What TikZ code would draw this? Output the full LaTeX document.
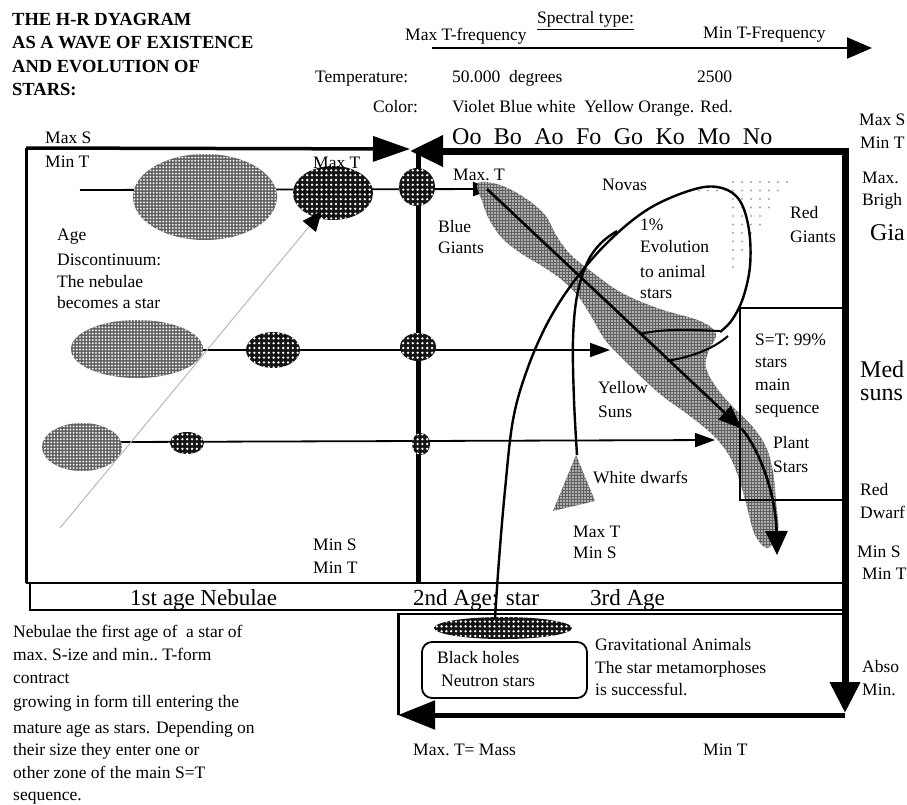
\documentclass[tikz,border=0pt]{standalone}
\usepackage{fontspec}
\setmainfont{Liberation Serif}
\usetikzlibrary{arrows.meta,patterns.meta}
\tikzset{
 lbl/.style={anchor=base west,inner sep=0pt,font=\fontsize{17.5}{21}\selectfont},
 bigl/.style={anchor=base west,inner sep=0pt,font=\fontsize{23}{26}\selectfont},
 bigr/.style={anchor=base west,inner sep=0pt,font=\fontsize{24}{26}\selectfont},
 ttl/.style={anchor=base west,inner sep=0pt,font=\fontsize{18.5}{22}\selectfont\bfseries},
 lightneb/.style={fill=black!62,postaction={pattern={Dots[radius=1pt,distance=3.2pt]},pattern color=white}},
 darkneb/.style={fill=black!92,postaction={pattern={Dots[radius=1.3pt,distance=4.8pt]},pattern color=white}},
 bandfill/.style={fill=black!62,postaction={pattern={Dots[radius=0.9pt,distance=3pt]},pattern color=white}},
 rowline/.style={line width=1.8pt},
 smalltip/.style={-{Triangle[length=20pt,width=14pt]}},
 curveline/.style={line width=2.4pt},
}
\begin{document}
\begin{tikzpicture}[x=1pt,y=-1pt,line join=miter]
\clip (0,0) rectangle (907,804);
\fill[white] (0,0) rectangle (907,804);

% ---------- top spectral arrow ----------
\coordinate (sa1) at (432,48);
\coordinate (sa2) at (872,48);
\draw[line width=2pt,-{Triangle[length=25pt,width=21pt]}] (sa1) -- (sa2);

% ---------- horizontal evolution rows ----------
\coordinate (r1a) at (80,190);  \coordinate (r1b) at (493,189);
\coordinate (r2a) at (200,350); \coordinate (r2b) at (610,350);
\coordinate (r3a) at (120,442); \coordinate (r3b) at (715,440);
\draw[rowline,smalltip] (r1a) -- (r1b);
\draw[rowline,smalltip] (r2a) -- (r2b);
\draw[rowline,smalltip] (r3a) -- (r3b);

% central vertical line
\coordinate (va) at (418,150); \coordinate (vb) at (418,583);
\draw[line width=5pt] (va) -- (vb);

% ---------- main sequence band ----------
\draw[bandfill,draw=none] plot[smooth cycle,tension=0.6] coordinates {
 (478,183) (500,185) (525,198) (545,215) (556,235) (570,254) (592,272) (622,293)
 (660,309) (700,321) (716,334) (708,352) (706,368) (716,387) (732,406) (752,426)
 (766,447) (773,472) (776,502) (778,530) (768,548)
 (755,535) (747,507) (740,482) (730,457) (714,436) (690,416) (660,394) (630,366)
 (606,341) (591,316) (578,296) (562,280) (542,266) (522,254) (503,239) (490,221) (482,201)};

% main sequence arrows
\coordinate (ms1) at (487,189);
\coordinate (ms2) at (742,429);
\coordinate (ms3) at (777,555);
\draw[line width=2.6pt,-{Triangle[length=24pt,width=18pt]}] (ms1) -- (ms2);
\draw[line width=2.6pt,-{Triangle[length=24pt,width=22pt]}] (ms2) .. controls (763,455) and (776,500) .. (ms3);

% ---------- nebulae and stars ----------
\path[lightneb] (205,197) ellipse (72 and 43);
\path[darkneb] (333,193) ellipse (40 and 27);
\path[darkneb] (417,187) ellipse (18 and 19);
\path[lightneb] (137,349) ellipse (66 and 29);
\path[darkneb] (273,350) ellipse (27 and 18);
\path[darkneb] (418,347) ellipse (18 and 14);
\path[lightneb] (82,447) ellipse (40 and 24);
\path[darkneb] (187,443) ellipse (17 and 11);
\path[darkneb] (421,444) ellipse (9 and 11);

% gray discontinuum line
\coordinate (ga) at (60,528); \coordinate (gb) at (322,211);
\draw[gray!55,line width=1pt,-{Triangle[length=20pt,width=17pt,color=black]}] (ga) -- (gb);

% ---------- red giants stipple ----------
\foreach \r in {0,...,10}{
  \pgfmathtruncatemacro\n{6-0.6*\r+0.01}
  \foreach \c in {0,...,\n}{\fill[gray!70] (733+9*\c,182+8.5*\r) circle (1.1pt);}
}
\foreach \x in {699,708,717,726}{\fill[gray!70] (\x,190.5) circle (1.1pt);}

% ---------- white dwarfs ----------
\path[bandfill] (576,455) -- (595,501) -- (553,511) -- cycle;
\coordinate (wd) at (577,455);
\draw[curveline] plot[smooth,tension=0.6] coordinates {(wd) (574,400) (573,340) (577,296) (587,263) (601,243) (617,231)};

% ---------- evolution loop ----------
\path[darkneb] (503,628) ellipse (69 and 11);
\coordinate (bh) at (495,618);
\draw[curveline] plot[smooth,tension=0.6] coordinates {(bh) (499,560) (505,490) (513,420) (527,370) (548,322) (575,280) (610,240) (650,208) (695,189) (722,188) (740,201) (749,230) (750,266) (743,298) (732,320) (720,332)};
\draw[line width=2pt] (720,331) .. controls (695,330) and (665,328) .. (640,334);
\draw[line width=2pt] (728,336) .. controls (712,350) and (690,357) .. (667,361);

% ---------- frame ----------
\draw[line width=3pt] (26,583) -- (26,148);
\draw[line width=3.5pt,-{Triangle[length=37pt,width=25pt]}] (26,148) -- (410,149);
\draw[line width=7pt,{Triangle[length=33pt,width=30pt]}-{Triangle[length=31pt,width=29pt]}] (410,151) -- (845,151) -- (845,713);
\draw[line width=5pt,-{Triangle[length=37pt,width=28pt]}] (845,715) -- (398,715);
\draw[line width=3pt] (398,613) -- (398,715);
\draw[line width=2.5pt] (26,583) -- (845,583);
\draw[line width=2pt] (30,583) -- (30,610) -- (845,610);
\draw[line width=2pt] (398,613.5) -- (845,613.5);
\draw[line width=2pt] (845,308) -- (740,308) -- (740,500) -- (845,500);
\draw[line width=1.8pt,rounded corners=10pt] (422,642) rectangle (587,698);

% ---------- texts ----------
\node[ttl] (t1) at (12,25) {THE H-R DYAGRAM};
\node[ttl] (t2) at (12,48.5) {AS A WAVE OF EXISTENCE};
\node[ttl] (t3) at (12,72) {AND EVOLUTION OF};
\node[ttl] (t4) at (12,95.5) {STARS:};

\node[lbl] (sp) at (537,23.6) {\underline{Spectral type:}};
\node[lbl] (mxf) at (405,40.6) {Max T-frequency};
\node[lbl] (mnf) at (703,38.6) {Min T-Frequency};
\node[lbl] (tmp) at (315,82.6) {Temperature:};
\node[lbl] (t50) at (452,82.6) {50.000\ \ degrees};
\node[lbl] (t25) at (697,82.6) {2500};
\node[lbl] (col) at (373,112.6) {Color:};
\node[lbl] (cols) at (452,112.6) {Violet Blue white\ \ Yellow Orange. Red.};
\node[bigr] (spt) at (452,144.5) {\spaceskip=12.4pt Oo Bo Ao Fo Go Ko Mo No};

\node[lbl] (a1) at (45,143.6) {Max S};
\node[lbl] (a2) at (45,167.6) {Min T};
\node[lbl] (a3) at (313,168.6) {Max T};
\node[lbl] (a4) at (453,180.6) {Max.\ T};
\node[lbl] (a5) at (438,232.6) {Blue};
\node[lbl] (a6) at (438,253.6) {Giants};
\node[lbl] (a7) at (602,190.6) {Novas};
\node[lbl] (a8) at (640,230.6) {1\%};
\node[lbl] (a9) at (640,252.6) {Evolution};
\node[lbl] (a10) at (640,277.6) {to animal};
\node[lbl] (a11) at (640,298.6) {stars};
\node[lbl] (a12) at (790,218.6) {Red};
\node[lbl] (a13) at (790,242.6) {Giants};
\node[lbl] (a14) at (57,240.6) {Age};
\node[lbl] (a15) at (57,265.6) {Discontinuum:};
\node[lbl] (a16) at (57,287.6) {The nebulae};
\node[lbl] (a17) at (57,308.6) {becomes a star};
\node[lbl] (a18) at (755,345.6) {S=T: 99\%};
\node[lbl] (a19) at (755,367.6) {stars};
\node[lbl] (a20) at (755,390.6) {main};
\node[lbl] (a21) at (755,413.6) {sequence};
\node[lbl] (a22) at (598,393.6) {Yellow};
\node[lbl] (a23) at (598,417.6) {Suns};
\node[lbl] (a24) at (773,448.6) {Plant};
\node[lbl] (a25) at (773,472.6) {Stars};
\node[lbl] (a26) at (593,483.6) {White dwarfs};
\node[lbl] (a27) at (573,537.6) {Max T};
\node[lbl] (a28) at (573,558.6) {Min S};
\node[lbl] (a29) at (313,550.6) {Min S};
\node[lbl] (a30) at (313,573.6) {Min T};

\node[bigl] (g1) at (130,605.4) {1st age Nebulae};
\node[bigl] (g2) at (413,605.4) {2nd Age: star};
\node[bigl] (g3) at (590,605.4) {3rd Age};

\node[lbl] (b1) at (437,663.6) {Black holes};
\node[lbl] (b2) at (441,686.6) {Neutron stars};
\node[lbl] (b3) at (595,650.6) {Gravitational Animals};
\node[lbl] (b4) at (595,673.6) {The star metamorphoses};
\node[lbl] (b5) at (595,695.6) {is successful.};
\node[lbl] (b6) at (413,755.6) {Max.\ T= Mass};
\node[lbl] (b7) at (703,755.6) {Min T};

\node[lbl] (l1) at (13,637.6) {Nebulae the first age of\ \ a star of};
\node[lbl] (l2) at (13,660.6) {max.\ S-ize and min..\ T-form};
\node[lbl] (l3) at (13,683.6) {contract};
\node[lbl] (l4) at (13,707.6) {growing in form till entering the};
\node[lbl] (l5) at (13,733.6) {mature age as stars. Depending on};
\node[lbl] (l6) at (13,755.6) {their size they enter one or};
\node[lbl] (l7) at (13,778.6) {other zone of the main S=T};
\node[lbl] (l8) at (13,800.6) {sequence.};

\node[lbl] (c1) at (859,125.6) {Max S};
\node[lbl] (c2) at (860,148.6) {Min T};
\node[lbl] (c3) at (862,183.6) {Max.};
\node[lbl] (c4) at (862,205.6) {Brigh};
\node[bigr] (c5) at (870,240.7) {Gia};
\node[bigr] (c6) at (860,377.7) {Med};
\node[bigr] (c7) at (860,400.7) {suns};
\node[lbl] (c8) at (860,495.6) {Red};
\node[lbl] (c9) at (860,518.6) {Dwarf};
\node[lbl] (c10) at (857,557.6) {Min S};
\node[lbl] (c11) at (862,579.6) {Min T};
\node[lbl] (c12) at (862,672.6) {Abso};
\node[lbl] (c13) at (862,695.6) {Min.};
\end{tikzpicture}
\end{document}
